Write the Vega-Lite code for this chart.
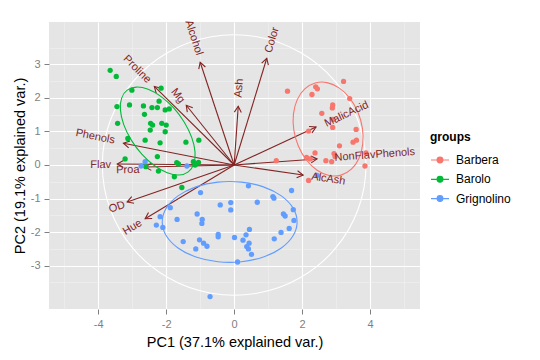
{
  "$schema": "https://vega.github.io/schema/vega-lite/v6.json",
  "width": 371,
  "height": 287,
  "autosize": {"type": "none"},
  "padding": {"left": 49, "top": 22, "right": 120, "bottom": 51},
  "background": "white",
  "config": {
    "view": {"fill": "#E5E5E5", "stroke": null},
    "font": "Liberation Sans",
    "axis": {
      "domain": false,
      "tickColor": "#7F7F7F",
      "tickSize": 5,
      "labelColor": "#7F7F7F",
      "labelFontSize": 11,
      "labelPadding": 4,
      "labelOverlap": false,
      "labelFlush": false,
      "titleFontSize": 14.5,
      "titleFontWeight": "normal",
      "titleColor": "#000000"
    }
  },
  "datasets": {
    "pts": [
      {"group": "Barolo", "PC1": -3.65, "PC2": 2.82},
      {"group": "Barolo", "PC1": -3.47, "PC2": 2.64},
      {"group": "Barolo", "PC1": -3.01, "PC2": 2.23},
      {"group": "Barolo", "PC1": -2.15, "PC2": 2.29},
      {"group": "Barolo", "PC1": -3.45, "PC2": 1.74},
      {"group": "Barolo", "PC1": -3.08, "PC2": 1.79},
      {"group": "Barolo", "PC1": -2.67, "PC2": 1.76},
      {"group": "Barolo", "PC1": -2.42, "PC2": 1.71},
      {"group": "Barolo", "PC1": -2.26, "PC2": 1.71},
      {"group": "Barolo", "PC1": -2.21, "PC2": 1.90},
      {"group": "Barolo", "PC1": -2.03, "PC2": 1.64},
      {"group": "Barolo", "PC1": -1.91, "PC2": 1.67},
      {"group": "Barolo", "PC1": -2.64, "PC2": 1.51},
      {"group": "Barolo", "PC1": -3.43, "PC2": 1.24},
      {"group": "Barolo", "PC1": -2.46, "PC2": 1.24},
      {"group": "Barolo", "PC1": -2.40, "PC2": 1.19},
      {"group": "Barolo", "PC1": -2.13, "PC2": 1.24},
      {"group": "Barolo", "PC1": -2.00, "PC2": 1.19},
      {"group": "Barolo", "PC1": -2.47, "PC2": 1.04},
      {"group": "Barolo", "PC1": -2.03, "PC2": 0.99},
      {"group": "Barolo", "PC1": -3.13, "PC2": 0.79},
      {"group": "Barolo", "PC1": -2.62, "PC2": 0.74},
      {"group": "Barolo", "PC1": -2.18, "PC2": 0.66},
      {"group": "Barolo", "PC1": -1.42, "PC2": 0.68},
      {"group": "Barolo", "PC1": -1.04, "PC2": 0.74},
      {"group": "Barolo", "PC1": -2.26, "PC2": 0.25},
      {"group": "Barolo", "PC1": -3.21, "PC2": 0.18},
      {"group": "Barolo", "PC1": -1.69, "PC2": 0.07},
      {"group": "Barolo", "PC1": -1.20, "PC2": 0.10},
      {"group": "Barolo", "PC1": -1.05, "PC2": 0.08},
      {"group": "Barolo", "PC1": -1.15, "PC2": 0.00},
      {"group": "Barolo", "PC1": -2.60, "PC2": -0.05},
      {"group": "Barolo", "PC1": -2.23, "PC2": -0.18},
      {"group": "Barolo", "PC1": -1.76, "PC2": -0.35},
      {"group": "Barolo", "PC1": -1.54, "PC2": -0.67},
      {"group": "Barolo", "PC1": -1.64, "PC2": 0.03},
      {"group": "Barbera", "PC1": 3.22, "PC2": 2.49},
      {"group": "Barbera", "PC1": 1.57, "PC2": 2.20},
      {"group": "Barbera", "PC1": 2.40, "PC2": 2.33},
      {"group": "Barbera", "PC1": 2.45, "PC2": 2.27},
      {"group": "Barbera", "PC1": 2.29, "PC2": 2.10},
      {"group": "Barbera", "PC1": 3.40, "PC2": 1.98},
      {"group": "Barbera", "PC1": 2.90, "PC2": 1.79},
      {"group": "Barbera", "PC1": 2.89, "PC2": 1.70},
      {"group": "Barbera", "PC1": 2.58, "PC2": 1.54},
      {"group": "Barbera", "PC1": 2.91, "PC2": 1.36},
      {"group": "Barbera", "PC1": 2.90, "PC2": 1.12},
      {"group": "Barbera", "PC1": 3.59, "PC2": 1.06},
      {"group": "Barbera", "PC1": 2.19, "PC2": 1.01},
      {"group": "Barbera", "PC1": 3.60, "PC2": 0.74},
      {"group": "Barbera", "PC1": 3.50, "PC2": 0.68},
      {"group": "Barbera", "PC1": 3.10, "PC2": 0.57},
      {"group": "Barbera", "PC1": 2.38, "PC2": 0.36},
      {"group": "Barbera", "PC1": 2.94, "PC2": 0.34},
      {"group": "Barbera", "PC1": 2.97, "PC2": 0.25},
      {"group": "Barbera", "PC1": 2.13, "PC2": 0.23},
      {"group": "Barbera", "PC1": 2.24, "PC2": 0.18},
      {"group": "Barbera", "PC1": 2.70, "PC2": 0.13},
      {"group": "Barbera", "PC1": 2.87, "PC2": 0.10},
      {"group": "Barbera", "PC1": 3.88, "PC2": 0.36},
      {"group": "Barbera", "PC1": 3.85, "PC2": -0.03},
      {"group": "Barbera", "PC1": 2.19, "PC2": -0.46},
      {"group": "Barbera", "PC1": 1.24, "PC2": 0.13},
      {"group": "Grignolino", "PC1": -2.62, "PC2": 0.10},
      {"group": "Grignolino", "PC1": -2.74, "PC2": -0.03},
      {"group": "Grignolino", "PC1": -1.39, "PC2": -0.03},
      {"group": "Grignolino", "PC1": -0.99, "PC2": -0.82},
      {"group": "Grignolino", "PC1": -0.41, "PC2": -1.19},
      {"group": "Grignolino", "PC1": -0.10, "PC2": -1.12},
      {"group": "Grignolino", "PC1": -0.10, "PC2": -1.34},
      {"group": "Grignolino", "PC1": -1.88, "PC2": -1.27},
      {"group": "Grignolino", "PC1": -2.18, "PC2": -1.54},
      {"group": "Grignolino", "PC1": -2.29, "PC2": -1.79},
      {"group": "Grignolino", "PC1": -2.10, "PC2": -1.86},
      {"group": "Grignolino", "PC1": -1.68, "PC2": -1.62},
      {"group": "Grignolino", "PC1": -1.09, "PC2": -1.46},
      {"group": "Grignolino", "PC1": -0.94, "PC2": -1.62},
      {"group": "Grignolino", "PC1": -0.95, "PC2": -1.74},
      {"group": "Grignolino", "PC1": -0.47, "PC2": -2.07},
      {"group": "Grignolino", "PC1": -0.47, "PC2": -2.14},
      {"group": "Grignolino", "PC1": 0.01, "PC2": -2.16},
      {"group": "Grignolino", "PC1": -1.50, "PC2": -2.28},
      {"group": "Grignolino", "PC1": -1.02, "PC2": -2.23},
      {"group": "Grignolino", "PC1": -0.90, "PC2": -2.33},
      {"group": "Grignolino", "PC1": -0.80, "PC2": -2.42},
      {"group": "Grignolino", "PC1": -1.13, "PC2": -2.50},
      {"group": "Grignolino", "PC1": 0.10, "PC2": -2.89},
      {"group": "Grignolino", "PC1": -0.71, "PC2": -3.92},
      {"group": "Grignolino", "PC1": 0.42, "PC2": -0.62},
      {"group": "Grignolino", "PC1": 1.69, "PC2": -0.76},
      {"group": "Grignolino", "PC1": 1.14, "PC2": -0.94},
      {"group": "Grignolino", "PC1": 1.17, "PC2": -0.99},
      {"group": "Grignolino", "PC1": 0.68, "PC2": -1.11},
      {"group": "Grignolino", "PC1": 1.74, "PC2": -1.33},
      {"group": "Grignolino", "PC1": 1.45, "PC2": -1.46},
      {"group": "Grignolino", "PC1": 1.50, "PC2": -1.52},
      {"group": "Grignolino", "PC1": 1.76, "PC2": -1.65},
      {"group": "Grignolino", "PC1": 1.62, "PC2": -1.89},
      {"group": "Grignolino", "PC1": 1.38, "PC2": -2.01},
      {"group": "Grignolino", "PC1": 1.18, "PC2": -2.20},
      {"group": "Grignolino", "PC1": 0.45, "PC2": -1.92},
      {"group": "Grignolino", "PC1": 0.35, "PC2": -2.08},
      {"group": "Grignolino", "PC1": 0.26, "PC2": -2.24},
      {"group": "Grignolino", "PC1": 0.44, "PC2": -2.33},
      {"group": "Grignolino", "PC1": 0.37, "PC2": -2.43},
      {"group": "Grignolino", "PC1": 0.42, "PC2": -2.50},
      {"group": "Grignolino", "PC1": 0.51, "PC2": -2.66},
      {"group": "Grignolino", "PC1": 2.44, "PC2": -0.31}
    ],
    "circle": [
      {"i": 0, "PC1": 3.88, "PC2": 0},
      {"i": 1, "PC1": 3.646, "PC2": 1.327},
      {"i": 2, "PC1": 2.972, "PC2": 2.494},
      {"i": 3, "PC1": 1.94, "PC2": 3.36},
      {"i": 4, "PC1": 0.674, "PC2": 3.821},
      {"i": 5, "PC1": -0.674, "PC2": 3.821},
      {"i": 6, "PC1": -1.94, "PC2": 3.36},
      {"i": 7, "PC1": -2.972, "PC2": 2.494},
      {"i": 8, "PC1": -3.646, "PC2": 1.327},
      {"i": 9, "PC1": -3.88, "PC2": 0},
      {"i": 10, "PC1": -3.646, "PC2": -1.327},
      {"i": 11, "PC1": -2.972, "PC2": -2.494},
      {"i": 12, "PC1": -1.94, "PC2": -3.36},
      {"i": 13, "PC1": -0.674, "PC2": -3.821},
      {"i": 14, "PC1": 0.674, "PC2": -3.821},
      {"i": 15, "PC1": 1.94, "PC2": -3.36},
      {"i": 16, "PC1": 2.972, "PC2": -2.494},
      {"i": 17, "PC1": 3.646, "PC2": -1.327}
    ],
    "ellipses": [
      {"group": "Barolo", "i": 0, "PC1": -1.350, "PC2": -0.205},
      {"group": "Barolo", "i": 1, "PC1": -1.621, "PC2": -0.297},
      {"group": "Barolo", "i": 2, "PC1": -1.969, "PC2": -0.231},
      {"group": "Barolo", "i": 3, "PC1": -2.350, "PC2": -0.014},
      {"group": "Barolo", "i": 4, "PC1": -2.719, "PC2": 0.325},
      {"group": "Barolo", "i": 5, "PC1": -3.032, "PC2": 0.749},
      {"group": "Barolo", "i": 6, "PC1": -3.250, "PC2": 1.203},
      {"group": "Barolo", "i": 7, "PC1": -3.348, "PC2": 1.634},
      {"group": "Barolo", "i": 8, "PC1": -3.313, "PC2": 1.991},
      {"group": "Barolo", "i": 9, "PC1": -3.150, "PC2": 2.229},
      {"group": "Barolo", "i": 10, "PC1": -2.879, "PC2": 2.321},
      {"group": "Barolo", "i": 11, "PC1": -2.531, "PC2": 2.254},
      {"group": "Barolo", "i": 12, "PC1": -2.150, "PC2": 2.038},
      {"group": "Barolo", "i": 13, "PC1": -1.781, "PC2": 1.699},
      {"group": "Barolo", "i": 14, "PC1": -1.468, "PC2": 1.275},
      {"group": "Barolo", "i": 15, "PC1": -1.250, "PC2": 0.821},
      {"group": "Barolo", "i": 16, "PC1": -1.152, "PC2": 0.390},
      {"group": "Barolo", "i": 17, "PC1": -1.187, "PC2": 0.032},
      {"group": "Barbera", "i": 0, "PC1": 3.146, "PC2": -0.301},
      {"group": "Barbera", "i": 1, "PC1": 2.796, "PC2": -0.312},
      {"group": "Barbera", "i": 2, "PC1": 2.441, "PC2": -0.155},
      {"group": "Barbera", "i": 3, "PC1": 2.126, "PC2": 0.149},
      {"group": "Barbera", "i": 4, "PC1": 1.889, "PC2": 0.565},
      {"group": "Barbera", "i": 5, "PC1": 1.756, "PC2": 1.042},
      {"group": "Barbera", "i": 6, "PC1": 1.745, "PC2": 1.522},
      {"group": "Barbera", "i": 7, "PC1": 1.857, "PC2": 1.948},
      {"group": "Barbera", "i": 8, "PC1": 2.079, "PC2": 2.268},
      {"group": "Barbera", "i": 9, "PC1": 2.384, "PC2": 2.444},
      {"group": "Barbera", "i": 10, "PC1": 2.734, "PC2": 2.454},
      {"group": "Barbera", "i": 11, "PC1": 3.088, "PC2": 2.298},
      {"group": "Barbera", "i": 12, "PC1": 3.403, "PC2": 1.993},
      {"group": "Barbera", "i": 13, "PC1": 3.641, "PC2": 1.578},
      {"group": "Barbera", "i": 14, "PC1": 3.774, "PC2": 1.101},
      {"group": "Barbera", "i": 15, "PC1": 3.784, "PC2": 0.621},
      {"group": "Barbera", "i": 16, "PC1": 3.672, "PC2": 0.195},
      {"group": "Barbera", "i": 17, "PC1": 3.450, "PC2": -0.125},
      {"group": "Grignolino", "i": 0, "PC1": 1.853, "PC2": -1.696},
      {"group": "Grignolino", "i": 1, "PC1": 1.734, "PC2": -1.284},
      {"group": "Grignolino", "i": 2, "PC1": 1.389, "PC2": -0.921},
      {"group": "Grignolino", "i": 3, "PC1": 0.861, "PC2": -0.652},
      {"group": "Grignolino", "i": 4, "PC1": 0.213, "PC2": -0.509},
      {"group": "Grignolino", "i": 5, "PC1": -0.477, "PC2": -0.509},
      {"group": "Grignolino", "i": 6, "PC1": -1.125, "PC2": -0.652},
      {"group": "Grignolino", "i": 7, "PC1": -1.653, "PC2": -0.921},
      {"group": "Grignolino", "i": 8, "PC1": -1.998, "PC2": -1.284},
      {"group": "Grignolino", "i": 9, "PC1": -2.117, "PC2": -1.696},
      {"group": "Grignolino", "i": 10, "PC1": -1.998, "PC2": -2.108},
      {"group": "Grignolino", "i": 11, "PC1": -1.653, "PC2": -2.471},
      {"group": "Grignolino", "i": 12, "PC1": -1.125, "PC2": -2.740},
      {"group": "Grignolino", "i": 13, "PC1": -0.477, "PC2": -2.883},
      {"group": "Grignolino", "i": 14, "PC1": 0.213, "PC2": -2.883},
      {"group": "Grignolino", "i": 15, "PC1": 0.861, "PC2": -2.740},
      {"group": "Grignolino", "i": 16, "PC1": 1.389, "PC2": -2.471},
      {"group": "Grignolino", "i": 17, "PC1": 1.734, "PC2": -2.108}
    ],
    "arrows": [
      {"var": "Alcohol", "PC1": -1.0, "PC2": 3.06, "lx": -1.19, "ly": 3.79},
      {"var": "Color", "PC1": 0.96, "PC2": 3.18, "lx": 1.12, "ly": 3.72},
      {"var": "Ash", "PC1": 0.12, "PC2": 1.75, "lx": 0.15, "ly": 2.29},
      {"var": "Mg", "PC1": -1.41, "PC2": 1.78, "lx": -1.66, "ly": 2.06},
      {"var": "Proline", "PC1": -2.35, "PC2": 2.34, "lx": -2.86, "ly": 2.85},
      {"var": "Phenols", "PC1": -3.26, "PC2": 0.65, "lx": -4.09, "ly": 0.84},
      {"var": "Flav", "PC1": -3.44, "PC2": 0.03, "lx": -3.93, "ly": 0.0},
      {"var": "Proa", "PC1": -2.62, "PC2": -0.06, "lx": -3.13, "ly": -0.15},
      {"var": "OD", "PC1": -3.15, "PC2": -1.10, "lx": -3.45, "ly": -1.26},
      {"var": "Hue", "PC1": -2.62, "PC2": -1.60, "lx": -2.99, "ly": -1.86},
      {"var": "MalicAcid", "PC1": 2.41, "PC2": 1.13, "lx": 3.31, "ly": 1.51},
      {"var": "NonFlavPhenols", "PC1": 2.44, "PC2": 0.18, "lx": 4.14, "ly": 0.30},
      {"var": "AlcAsh", "PC1": 2.03, "PC2": -0.30, "lx": 2.77, "ly": -0.42}
    ]
  },
  "encoding": {
    "x": {
      "field": "PC1",
      "type": "quantitative",
      "title": "PC1 (37.1% explained var.)",
      "scale": {"domain": [-5.45, 5.47], "nice": false, "zero": false},
      "axis": {
        "values": [-5, -4, -3, -2, -1, 0, 1, 2, 3, 4, 5],
        "labelExpr": "datum.value % 2 == 0 ? '' + datum.value : ''",
        "gridColor": {"condition": {"test": "datum.value % 2 == 0", "value": "#FFFFFF"}, "value": "#F2F2F2"},
        "gridWidth": {"condition": {"test": "datum.value % 2 == 0", "value": 1.1}, "value": 0.5},
        "tickOpacity": {"condition": {"test": "datum.value % 2 == 0", "value": 1}, "value": 0},
        "titlePadding": 6
      }
    },
    "y": {
      "field": "PC2",
      "type": "quantitative",
      "title": "PC2 (19.1% explained var.)",
      "scale": {"domain": [-4.29, 4.26], "nice": false, "zero": false},
      "axis": {
        "values": [-3.5, -3, -2.5, -2, -1.5, -1, -0.5, 0, 0.5, 1, 1.5, 2, 2.5, 3, 3.5],
        "labelExpr": "datum.value % 1 == 0 ? '' + datum.value : ''",
        "gridColor": {"condition": {"test": "datum.value % 1 == 0", "value": "#FFFFFF"}, "value": "#F2F2F2"},
        "gridWidth": {"condition": {"test": "datum.value % 1 == 0", "value": 1.1}, "value": 0.5},
        "tickOpacity": {"condition": {"test": "datum.value % 1 == 0", "value": 1}, "value": 0},
        "titlePadding": 3
      }
    }
  },
  "layer": [
    {
      "data": {"name": "circle"},
      "mark": {"type": "line", "color": "#FFFFFF", "strokeWidth": 1.1, "interpolate": "cardinal-closed"},
      "encoding": {"order": {"field": "i", "type": "quantitative"}}
    },
    {
      "data": {"name": "arrows"},
      "mark": {"type": "rule", "color": "#832424", "strokeWidth": 1.1},
      "encoding": {
        "x2": {"datum": 0},
        "y2": {"datum": 0}
      }
    },
    {
      "data": {"name": "arrows"},
      "transform": [{"calculate": "atan2(datum.PC1, datum.PC2) * 180 / PI", "as": "hang"}],
      "mark": {"type": "point", "shape": "M-0.5,0.87L0,0L0.5,0.87", "filled": false, "color": "#832424", "strokeWidth": 1.1, "size": 196, "opacity": 1},
      "encoding": {
        "angle": {"field": "hang", "type": "quantitative", "scale": null}
      }
    },
    {
      "data": {"name": "pts"},
      "mark": {"type": "point", "filled": true, "size": 28, "opacity": 1, "strokeWidth": 0},
      "encoding": {
        "color": {
          "field": "group",
          "type": "nominal",
          "scale": {"domain": ["Barbera", "Barolo", "Grignolino"], "range": ["#F8766D", "#00BA38", "#619CFF"]},
          "legend": {
            "title": "groups",
            "orient": "none",
            "legendX": 381,
            "legendY": 110,
            "padding": 0,
            "titleFontSize": 12,
            "titleFontWeight": "bold",
            "titleColor": "#000000",
            "titlePadding": 6,
            "labelFontSize": 12,
            "labelColor": "#000000",
            "labelOffset": 6,
            "rowPadding": 3.3,
            "symbolType": "M-1,0L1,0M-0.32,0A0.32,0.32,0,1,1,0.32,0A0.32,0.32,0,1,1,-0.32,0Z",
            "symbolSize": 324,
            "symbolStrokeWidth": 1.2,
            "symbolOpacity": 1,
            "encode": {
              "symbols": {
                "update": {
                  "stroke": {"scale": "color", "field": "value"},
                  "fill": {"scale": "color", "field": "value"}
                }
              }
            }
          }
        }
      }
    },
    {
      "data": {"name": "ellipses"},
      "mark": {"type": "line", "strokeWidth": 1.1, "interpolate": "cardinal-closed"},
      "encoding": {
        "color": {"field": "group", "type": "nominal"},
        "order": {"field": "i", "type": "quantitative"}
      }
    },
    {
      "data": {"name": "arrows"},
      "transform": [{"calculate": "-atan(datum.PC2 / datum.PC1) * 180 / PI", "as": "ang"}],
      "mark": {"type": "text", "font": "Liberation Sans", "fontSize": 11, "color": "#832424", "align": "center", "baseline": "middle"},
      "encoding": {
        "x": {"field": "lx", "type": "quantitative", "title": "PC1 (37.1% explained var.)"},
        "y": {"field": "ly", "type": "quantitative", "title": "PC2 (19.1% explained var.)"},
        "text": {"field": "var", "type": "nominal"},
        "angle": {"field": "ang", "type": "quantitative", "scale": null}
      }
    }
  ]
}
